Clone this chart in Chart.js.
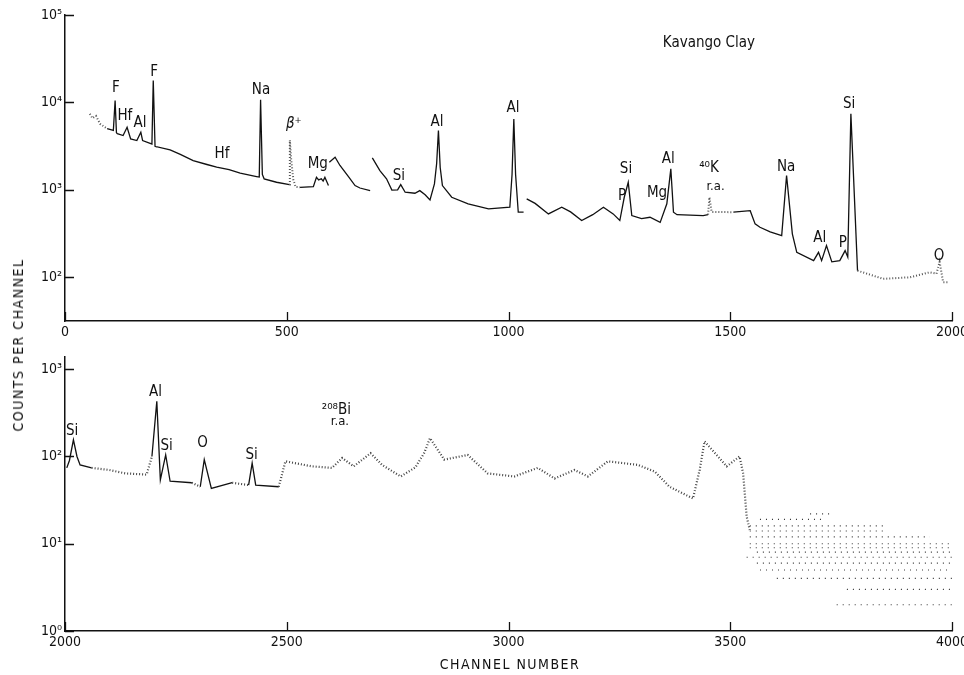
<!DOCTYPE html>
<html>
<head>
<meta charset="utf-8">
<script src="https://cdn.jsdelivr.net/npm/chart.js@4.4.1/dist/chart.umd.min.js"></script>
<style>
body { margin: 0; background: #fff; width: 964px; height: 675px; position: relative; overflow: hidden;
       font-family: 'DejaVu Sans Condensed', 'DejaVu Sans', sans-serif; color: #111; }
#topChart { position: absolute; left: 0; top: 0; }
#bottomChart { position: absolute; left: 0; top: 345px; }
.ytitle { position: absolute; left: 18px; top: 345px; transform: translate(-50%, -50%) rotate(-90deg);
          font-size: 14px; letter-spacing: 1.5px; white-space: nowrap; }
.xtitle { position: absolute; left: 510px; top: 664px; transform: translate(-50%, -50%);
          font-size: 14px; letter-spacing: 1.5px; white-space: nowrap; }
</style>
</head>
<body>
<canvas id="topChart" width="964" height="345"></canvas>
<canvas id="bottomChart" width="964" height="330"></canvas>
<div class="ytitle">COUNTS PER CHANNEL</div>
<div class="xtitle">CHANNEL NUMBER</div>
<script>
// spectrum, channels 0-2000 (null = break in the trace)
const topChannels = [56, 62, 70, 79, 95, 109, 113, 116, 118, 131, 140, 148, 162, 171, 175, 192, 196, 199, 203, 205,
    237, 260, 289, 320, 342, 370, 395, 432, 438, 441, 445, 449, 477, 506, 507, 510, 515, 520, 530, 560,
    567, 572, 578, 582, 586, 594, 595, 596, 609, 620, 640, 654, 665, 688, 690, 693, 710, 725, 737, 750,
    757, 767, 789, 800, 812, 823, 833, 838, 842, 846, 851, 872, 909, 955, 1003, 1008, 1012, 1016, 1022, 1034,
    1037, 1041, 1060, 1090, 1120, 1140, 1165, 1190, 1214, 1236, 1251, 1261, 1270, 1278, 1300, 1319, 1342, 1357, 1366, 1372,
    1380, 1439, 1450, 1453, 1458, 1507, 1545, 1556, 1567, 1590, 1616, 1627, 1640, 1650, 1688, 1699, 1706, 1717, 1729, 1747,
    1759, 1765, 1772, 1787, 1845, 1905, 1950, 1965, 1972, 1980, 1990];
const topCounts = [7400, 6600, 7000, 5700, 5000, 4780, 10500, 4500, 4400, 4180, 5200, 3820, 3660, 4560, 3660, 3410, 3350, 17800, 3150, 3130,
    2870, 2550, 2160, 1950, 1815, 1700, 1550, 1420, 1400, 10700, 1500, 1336, 1222, 1150, 3700, 2200, 1300, 1080, 1070, 1090,
    1394, 1300, 1340, 1260, 1390, 1120, null, 2070, 2360, 1900, 1400, 1120, 1050, 980, null, 2320, 1660, 1337, 995, 1000,
    1150, 940, 915, 980, 880, 768, 1170, 2000, 4770, 1800, 1120, 823, 692, 606, 633, 1500, 6480, 1500, 555, 555,
    null, 790, 700, 531, 633, 560, 446, 520, 633, 531, 446, 823, 1222, 508, 470, 486, 425, 692, 1740, 555,
    520, 508, 520, 823, 560, 555, 578, 408, 373, 330, 300, 1458, 314, 193, 155, 193, 155, 230, 150, 155,
    202, 170, 7420, 119, 96, 100, 114, 110, 150, 88, 88];

// spectrum, channels 2000-3550
const bottomChannels = [2004, 2010, 2019, 2027, 2034, 2060, 2100, 2136, 2184, 2196, 2207, 2215, 2227, 2237, 2286, 2305, 2314, 2330, 2377, 2414,
    2422, 2430, 2482, 2497, 2557, 2602, 2625, 2651, 2689, 2715, 2757, 2790, 2810, 2823, 2855, 2908, 2953, 3013, 3066, 3104,
    3149, 3179, 3224, 3292, 3330, 3363, 3416, 3431, 3442, 3492, 3521, 3529, 3537, 3544];
const bottomCounts = [74, 90, 155, 100, 80, 74, 70, 64, 62, 100, 428, 54, 104, 52, 50, 45, 92, 43, 50, 47,
    84, 47, 45, 88, 77, 74, 96, 77, 109, 80, 59, 75, 110, 162, 92, 104, 64, 59, 74, 56,
    70, 59, 88, 80, 67, 45, 33, 70, 149, 77, 100, 64, 20.5, 14.4];

// low-count tail above channel 3540: rows of single counts
const bandLevels = [22, 19, 16, 14, 12, 10, 9, 8, 7, 6, 5, 4, 3, 2];
const bandStart = [3680, 3567, 3544, 3544, 3544, 3544, 3544, 3560, 3537, 3560, 3567, 3605, 3763, 3740];
const bandEnd = [3730, 3710, 3850, 3850, 3950, 4000, 4000, 4000, 4000, 4000, 4000, 4000, 4000, 4000];

// peak labels: text, channel, counts
const topLabelText = ['F', 'Hf', 'Al', 'F', 'Na', 'β⁺', 'Hf', 'Mg', 'Si', 'Al', 'Al', 'Si', 'P', 'Al', 'Mg', '⁴⁰K', 'r.a.', 'Na', 'Al', 'P', 'Si', 'O'];
const topLabelCh = [115, 135, 169, 201, 442, 516, 354, 570, 753, 839, 1010, 1265, 1256, 1360, 1335, 1452, 1467, 1626, 1702, 1754, 1768, 1971];
const topLabelCounts = [14400, 6900, 5740, 22000, 14000, 5600, 2540, 1950, 1455, 6030, 8500, 1710, 838, 2275, 906, 1750, 1090, 1800, 284, 243, 9460, 173];
const bottomLabelText = ['Si', 'Al', 'Si', 'O', 'Si', '²⁰⁸Bi', 'r.a.'];
const bottomLabelCh = [2016, 2204, 2229, 2310, 2421, 2612, 2620];
const bottomLabelCounts = [197, 552, 133, 143, 105, 343, 250];

const topDotted = [[50, 80], [506, 522], [1450, 1460], [1780, 2000]];
const bottomSolid = [[2004, 2040], [2190, 2240], [2300, 2335], [2412, 2432]];

const FONT = "'DejaVu Sans Condensed', 'DejaVu Sans', sans-serif";
const INK = '#111';
const SUP = { 0: '⁰', 1: '¹', 2: '²', 3: '³', 4: '⁴', 5: '⁵' };

function toPoints(xs, ys) {
    return xs.map((x, i) => ({ x: x, y: ys[i] }));
}

function inRanges(v, ranges) {
    return ranges.some(r => v >= r[0] && v <= r[1]);
}

const inwardTicks = {
    id: 'inwardTicks',
    afterDraw(chart) {
        const { ctx, chartArea, scales } = chart;
        ctx.save();
        ctx.strokeStyle = INK;
        ctx.lineWidth = 1.3;
        ctx.beginPath();
        scales.y.ticks.forEach(t => {
            const y = Math.round(scales.y.getPixelForValue(t.value)) + 0.5;
            ctx.moveTo(chartArea.left, y);
            ctx.lineTo(chartArea.left + 9, y);
        });
        scales.x.ticks.forEach(t => {
            const x = Math.round(scales.x.getPixelForValue(t.value)) + 0.5;
            ctx.moveTo(x, chartArea.bottom);
            ctx.lineTo(x, chartArea.bottom - 9);
        });
        ctx.stroke();
        ctx.restore();
    }
};

const peakLabels = {
    id: 'peakLabels',
    afterDatasetsDraw(chart, args, opts) {
        const { ctx, scales } = chart;
        ctx.save();
        ctx.fillStyle = INK;
        ctx.textAlign = 'center';
        ctx.textBaseline = 'middle';
        opts.text.forEach((t, i) => {
            ctx.font = (t === 'β⁺' ? 'italic ' : '') + (t === 'r.a.' ? '13px ' : '15px ') + FONT;
            ctx.fillText(t, scales.x.getPixelForValue(opts.ch[i]), scales.y.getPixelForValue(opts.counts[i]));
        });
        if (opts.title) {
            ctx.font = '15px ' + FONT;
            ctx.textAlign = 'left';
            ctx.fillText(opts.title, scales.x.getPixelForValue(opts.titleCh), scales.y.getPixelForValue(opts.titleCounts));
        }
        ctx.restore();
    }
};

function makeOptions(xMin, xMax, yMin, yMax, yTicks, padTop, xHeight, labels) {
    return {
        responsive: false,
        animation: false,
        layout: { padding: { left: 0, right: 12, top: padTop, bottom: 0 } },
        plugins: { legend: { display: false }, tooltip: { enabled: false }, peakLabels: labels },
        elements: { point: { radius: 0 } },
        scales: {
            x: {
                type: 'linear', min: xMin, max: xMax,
                grid: { display: false, drawTicks: false },
                border: { display: true, color: INK, width: 1.5 },
                ticks: {
                    stepSize: 500, padding: 3, color: INK, font: { size: 14, family: FONT },
                    callback: v => String(v)
                },
                afterFit: s => { s.height = xHeight; s.paddingLeft = 0; s.paddingRight = 0; }
            },
            y: {
                type: 'logarithmic', min: yMin, max: yMax,
                grid: { display: false, drawTicks: false },
                border: { display: true, color: INK, width: 1.5 },
                ticks: {
                    padding: 3, color: INK, font: { size: 14, family: FONT },
                    callback: v => '10' + SUP[Math.round(Math.log10(v))]
                },
                afterBuildTicks: s => { s.ticks = yTicks.map(v => ({ value: v })); },
                afterFit: s => { s.width = 65; }
            }
        }
    };
}

new Chart(document.getElementById('topChart'), {
    type: 'line',
    data: {
        datasets: [{
            data: toPoints(topChannels, topCounts),
            borderColor: INK,
            borderWidth: 1.3,
            spanGaps: false,
            segment: {
                borderDash: c => inRanges(c.p0.parsed.x, topDotted) ? [1, 2] : undefined,
                borderColor: c => inRanges(c.p0.parsed.x, topDotted) ? '#555' : undefined,
                borderWidth: c => inRanges(c.p0.parsed.x, topDotted) ? 2 : undefined
            }
        }]
    },
    options: makeOptions(0, 2000, Math.pow(10, 1.5), 1e5, [1e2, 1e3, 1e4, 1e5], 15, 24, {
        text: topLabelText, ch: topLabelCh, counts: topLabelCounts,
        title: 'Kavango Clay', titleCh: 1348, titleCounts: 47200
    }),
    plugins: [inwardTicks, peakLabels]
});

const bottomSets = [{
    data: toPoints(bottomChannels, bottomCounts),
    borderColor: INK,
    borderWidth: 1.3,
    segment: {
        borderDash: c => inRanges(c.p0.parsed.x, bottomSolid) ? undefined : [1, 2],
        borderColor: c => inRanges(c.p0.parsed.x, bottomSolid) ? undefined : '#444',
        borderWidth: c => inRanges(c.p0.parsed.x, bottomSolid) ? undefined : 2.2
    }
}];
bandLevels.forEach((lvl, i) => {
    bottomSets.push({
        data: [{ x: bandStart[i], y: lvl }, { x: bandEnd[i], y: lvl }],
        borderColor: '#333',
        borderWidth: 1.2,
        borderDash: [1, 5]
    });
});

new Chart(document.getElementById('bottomChart'), {
    type: 'line',
    data: { datasets: bottomSets },
    options: makeOptions(2000, 4000, 1, 1380, [1, 10, 100, 1000], 12, 44, {
        text: bottomLabelText, ch: bottomLabelCh, counts: bottomLabelCounts
    }),
    plugins: [inwardTicks, peakLabels]
});
</script>
</body>
</html>
